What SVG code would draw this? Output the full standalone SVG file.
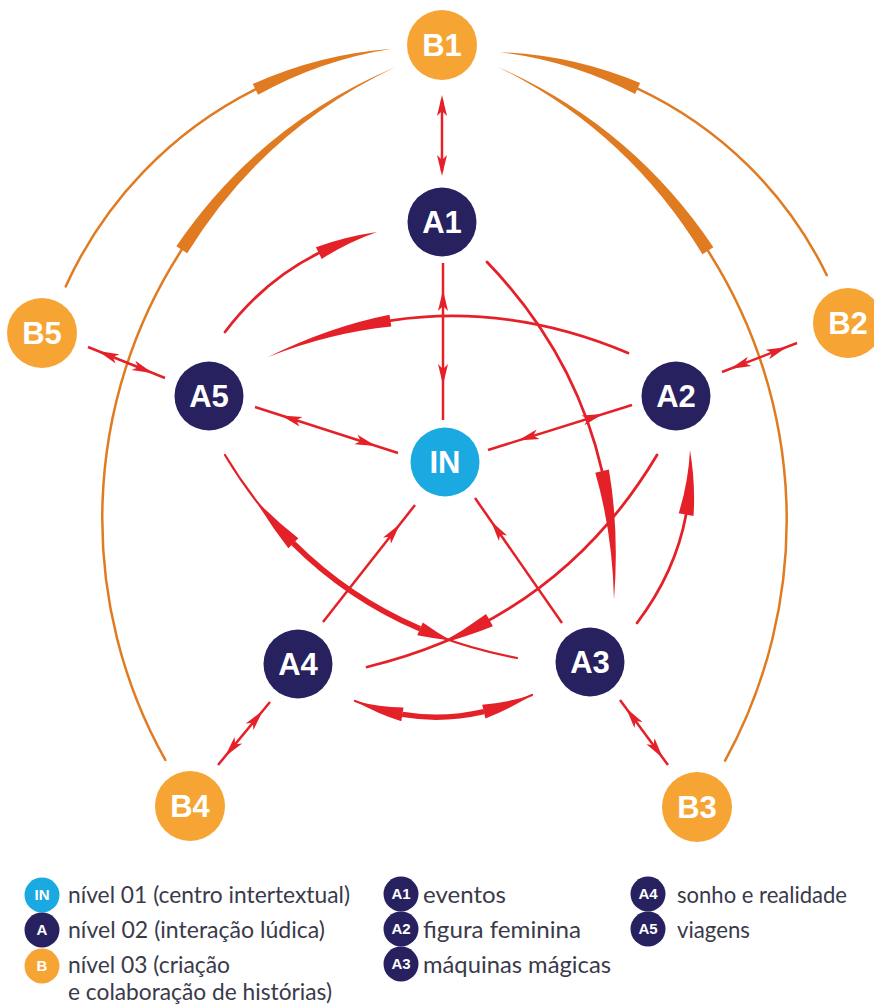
<svg xmlns="http://www.w3.org/2000/svg" xmlns:xlink="http://www.w3.org/1999/xlink" width="874" height="1005" viewBox="0 0 874 1005">
<defs>
<style>
.nB{fill:#f6a534}
.nA{fill:#27225f}
.nI{fill:#1ba9e1}
.lbl{font-family:"Liberation Sans",Arial,sans-serif;font-weight:bold;font-size:31px;fill:#ffffff;text-anchor:middle}
.li{font-family:"Liberation Sans",Arial,sans-serif;font-weight:bold;font-size:15px;fill:#ffffff;text-anchor:middle}
.r{stroke:#e42129;fill:none;stroke-width:2.8;stroke-linecap:round}
.rs{stroke:#e42129;fill:none;stroke-width:2.5}
.rt{stroke:#e42129;fill:none;stroke-width:5.5}
.rf{fill:#e42129}
.o{stroke:#e07b22;fill:none;stroke-width:2.5;stroke-linecap:round}
.of{fill:#e07b22}
.leg{font-family:Lato,"Liberation Sans",Arial,sans-serif;font-size:24px;fill:#3a3a4a}
</style>
<path id="ah" d="M0,0 L-21,-5 L-16,0 L-21,5 Z"/>
</defs>
<rect width="874" height="1005" fill="#ffffff"/>
<g id="connectors">
<path class="o" d="M65.7,286.4 A410,410 0 0,1 255.4,89.4"/>
<path class="of" d="M252.8,84 Q319.2,54.1 391.9,48.7 Q320.9,59.9 258.1,94.7 Z"/>
<path class="o" d="M165.3,759.9 A494,494 0 0,1 181.7,249.8"/>
<path class="of" d="M176.3,246.3 Q259.2,124.5 395.1,67.3 Q263.6,129.6 187.2,253.3 Z"/>
<path class="o" d="M826.8,275.2 A398,398 0 0,0 637.6,88.6"/>
<path class="of" d="M640.2,83.1 Q572.9,54.9 500,52.2 Q571.3,60.8 635.1,94 Z"/>
<path class="o" d="M725.1,760.6 A500,500 0 0,0 707.9,250.7"/>
<path class="of" d="M713.4,247.2 Q631.5,125.4 497.5,66.8 Q627,130.5 702.4,254.3 Z"/>
<path class="r" d="M225,332 Q263.9,280.4 318.8,253.1"/>
<path class="rf" d="M315.9,247.3 Q344.6,236.7 377,232 Q347.4,242.5 321.7,258.9 Z"/>
<path class="r" d="M628,353 Q509.2,302.8 390.4,320.6"/>
<path class="rf" d="M389.5,314.7 Q328.8,326.8 268,357 Q329.6,332.8 391.3,326.5 Z"/>
<path class="r" d="M487,262 Q574.8,353.1 602.1,471.2"/>
<path class="rf" d="M595.3,472.8 Q612.6,532.8 614,600 Q619.4,531.2 608.9,469.6 Z"/>
<path class="r" d="M225,455 Q325,621.5 517,658" style="stroke-width:2.2"/>
<path class="rt" d="M293.3,543.2 Q348.2,598 420,628.8"/>
<path class="rf" d="M298.3,538.3 Q275.4,520.3 254.8,499.1 Q270.4,525.3 288.4,548.2 Z"/>
<path class="rf" d="M422.8,622.4 Q436.4,632 450.8,640.6 Q433.6,638.4 417.2,635.2 Z"/>
<path class="r" d="M657,455 Q558,621 367,667"/>
<path class="rf" d="M486.1,614 Q464,630.2 439.8,643.8 Q467.4,636.4 492.9,626.2 Z"/>
<path class="r" d="M637,623 Q675.3,572.6 686.1,514.6"/>
<path class="rf" d="M678.7,513.2 Q688.3,482.7 690,450 Q695.7,484.1 693.5,516 Z"/>
<path class="r" d="M355,701 Q442.5,736 532,695" style="stroke-width:2.2"/>
<path class="rt" d="M402.4,714.4 Q442.9,721.1 483.8,711.6"/>
<path class="rf" d="M403.5,707.5 Q379.2,707 355,701 Q378,714 401.3,721.3 Z"/>
<path class="rf" d="M482.2,704.8 Q507.1,702.6 532,695 Q508.7,709.5 485.4,718.4 Z"/>
<line class="rs" x1="442" y1="100" x2="442" y2="171"/>
<use xlink:href="#ah" class="rf" transform="translate(442,95) rotate(-90)"/>
<use xlink:href="#ah" class="rf" transform="translate(442,176) rotate(90)"/>
<line class="rs" x1="443" y1="263" x2="443" y2="420"/>
<use xlink:href="#ah" class="rf" transform="translate(443,290) rotate(-90)"/>
<use xlink:href="#ah" class="rf" transform="translate(443,385) rotate(90)"/>
<line class="rs" x1="255" y1="407" x2="398" y2="453"/>
<use xlink:href="#ah" class="rf" transform="translate(281,415.4) rotate(197.83)"/>
<use xlink:href="#ah" class="rf" transform="translate(376,445.9) rotate(17.83)"/>
<line class="rs" x1="488" y1="450" x2="632" y2="405"/>
<use xlink:href="#ah" class="rf" transform="translate(518,440.6) rotate(162.64)"/>
<use xlink:href="#ah" class="rf" transform="translate(603,414.1) rotate(-17.36)"/>
<line class="rs" x1="88" y1="347" x2="165" y2="378"/>
<use xlink:href="#ah" class="rf" transform="translate(98,351) rotate(201.93)"/>
<use xlink:href="#ah" class="rf" transform="translate(153,373.2) rotate(21.93)"/>
<line class="rs" x1="722" y1="372" x2="797" y2="343"/>
<use xlink:href="#ah" class="rf" transform="translate(730,368.9) rotate(158.86)"/>
<use xlink:href="#ah" class="rf" transform="translate(787,346.9) rotate(-21.14)"/>
<line class="rs" x1="270" y1="702" x2="218" y2="765"/>
<use xlink:href="#ah" class="rf" transform="translate(263,710.5) rotate(-50.46)"/>
<use xlink:href="#ah" class="rf" transform="translate(225,756.5) rotate(129.54)"/>
<line class="rs" x1="620" y1="700" x2="668" y2="765"/>
<use xlink:href="#ah" class="rf" transform="translate(626,708.1) rotate(-126.44)"/>
<use xlink:href="#ah" class="rf" transform="translate(663,758.2) rotate(53.56)"/>
<line class="rs" x1="323" y1="622" x2="415" y2="505"/>
<use xlink:href="#ah" class="rf" transform="translate(400,524.1) rotate(-51.82)"/>
<line class="rs" x1="562" y1="623" x2="475" y2="498"/>
<use xlink:href="#ah" class="rf" transform="translate(491,521) rotate(-124.84)"/>
</g>
<g id="B1"><circle class="nB" cx="442" cy="45" r="35"/><text class="lbl" x="442" y="56">B1</text></g>
<g id="B2"><circle class="nB" cx="848" cy="323" r="35"/><text class="lbl" x="848" y="334">B2</text></g>
<g id="B3"><circle class="nB" cx="697" cy="807" r="35"/><text class="lbl" x="697" y="818">B3</text></g>
<g id="B4"><circle class="nB" cx="190" cy="806" r="35"/><text class="lbl" x="190" y="817">B4</text></g>
<g id="B5"><circle class="nB" cx="42" cy="333" r="35"/><text class="lbl" x="42" y="344">B5</text></g>
<g id="A1"><circle class="nA" cx="442" cy="222" r="34.5"/><text class="lbl" x="442" y="233">A1</text></g>
<g id="A2"><circle class="nA" cx="676" cy="396" r="34.5"/><text class="lbl" x="676" y="407">A2</text></g>
<g id="A3"><circle class="nA" cx="590" cy="662" r="34.5"/><text class="lbl" x="590" y="673">A3</text></g>
<g id="A4"><circle class="nA" cx="298" cy="664" r="34.5"/><text class="lbl" x="298" y="675">A4</text></g>
<g id="A5"><circle class="nA" cx="209" cy="396" r="34.5"/><text class="lbl" x="209" y="407">A5</text></g>
<g id="IN"><circle class="nI" cx="445" cy="462" r="34.5"/><text class="lbl" x="445" y="473">IN</text></g>
<g id="legend">
<g id="leg-IN"><circle class="nI" cx="42" cy="895" r="17.5"/><text class="li" x="42" y="900">IN</text><text class="leg" x="68" y="903" textLength="282" lengthAdjust="spacingAndGlyphs">nível 01 (centro intertextual)</text></g>
<g id="leg-A"><circle class="nA" cx="42" cy="930" r="17.5"/><text class="li" x="42" y="935">A</text><text class="leg" x="68" y="938" textLength="257" lengthAdjust="spacingAndGlyphs">nível 02 (interação lúdica)</text></g>
<g id="leg-B"><circle class="nB" cx="42" cy="966" r="17.5"/><text class="li" x="42" y="971">B</text><text class="leg" x="68" y="973" textLength="162" lengthAdjust="spacingAndGlyphs">nível 03 (criação</text><text class="leg" x="68" y="1000" textLength="264" lengthAdjust="spacingAndGlyphs">e colaboração de histórias)</text></g>
<g id="leg-A1"><circle class="nA" cx="401" cy="894" r="17.5"/><text class="li" x="401" y="899">A1</text><text class="leg" x="423" y="903" textLength="83" lengthAdjust="spacingAndGlyphs">eventos</text></g>
<g id="leg-A2"><circle class="nA" cx="401" cy="929" r="17.5"/><text class="li" x="401" y="934">A2</text><text class="leg" x="423" y="938" textLength="158" lengthAdjust="spacingAndGlyphs">figura feminina</text></g>
<g id="leg-A3"><circle class="nA" cx="401" cy="964" r="17.5"/><text class="li" x="401" y="969">A3</text><text class="leg" x="423" y="973" textLength="188" lengthAdjust="spacingAndGlyphs">máquinas mágicas</text></g>
<g id="leg-A4"><circle class="nA" cx="648" cy="894" r="17.5"/><text class="li" x="648" y="899">A4</text><text class="leg" x="677" y="903" textLength="170" lengthAdjust="spacingAndGlyphs">sonho e realidade</text></g>
<g id="leg-A5"><circle class="nA" cx="648" cy="929" r="17.5"/><text class="li" x="648" y="934">A5</text><text class="leg" x="677" y="938" textLength="73" lengthAdjust="spacingAndGlyphs">viagens</text></g>
</g>
</svg>
